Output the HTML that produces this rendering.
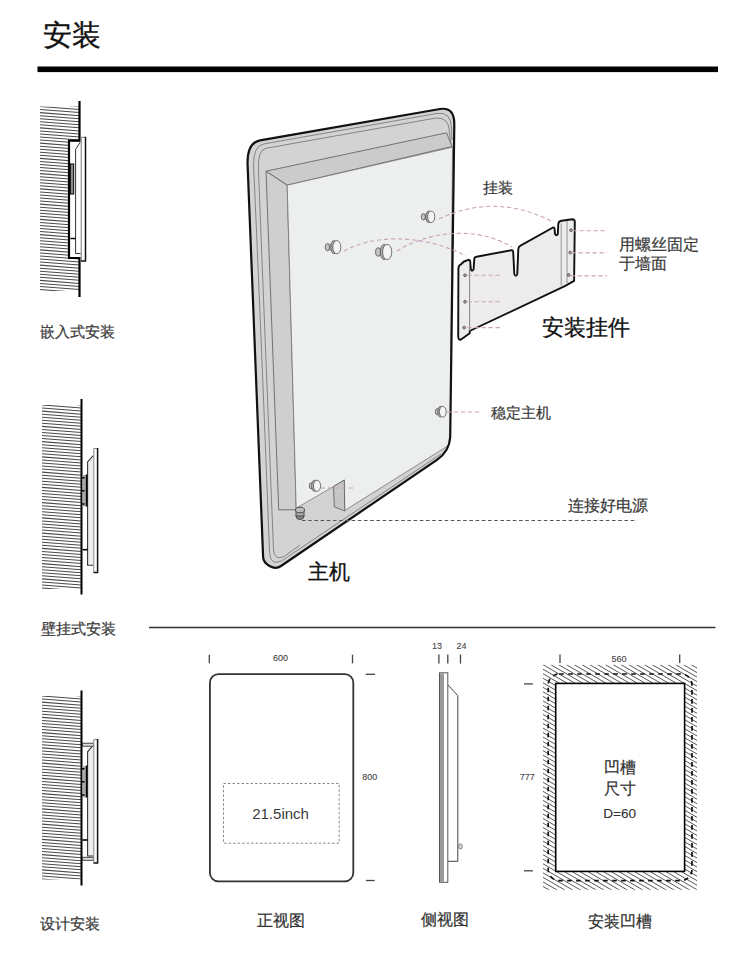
<!DOCTYPE html>
<html><head><meta charset="utf-8"><style>
html,body{margin:0;padding:0;background:#fff;}
body{width:750px;height:964px;position:relative;overflow:hidden;font-family:"Liberation Sans",sans-serif;}
svg{position:absolute;left:0;top:0;}
.t{position:absolute;white-space:nowrap;}
</style></head><body>
<svg width="750" height="964" viewBox="0 0 750 964">
<defs>
<clipPath id="w1"><rect x="40" y="106.5" width="39.5" height="184.5"/></clipPath>
<clipPath id="w2"><rect x="42" y="405" width="39.5" height="184"/></clipPath>
<clipPath id="w3"><rect x="42" y="696" width="39.5" height="183.5"/></clipPath>
<clipPath id="gz"><path clip-rule="evenodd" d="M543,664.7H697V889.8H543Z M555.7,683.4H684.6V871.4H555.7Z"/></clipPath>
</defs>
<rect x="37.5" y="66.5" width="680.5" height="5.6" fill="#000"/>
<line x1="149" y1="627.5" x2="715.5" y2="627.5" stroke="#333" stroke-width="1.5"/>
<path clip-path="url(#w1)" d="M40,103.45L79.5,106.50M40,106.50L79.5,109.55M40,109.55L79.5,112.60M40,112.60L79.5,115.65M40,115.65L79.5,118.70M40,118.70L79.5,121.75M40,121.75L79.5,124.80M40,124.80L79.5,127.85M40,127.85L79.5,130.90M40,130.90L79.5,133.95M40,133.95L79.5,137.00M40,137.00L79.5,140.05M40,140.05L79.5,143.10M40,143.10L79.5,146.15M40,146.15L79.5,149.20M40,149.20L79.5,152.25M40,152.25L79.5,155.30M40,155.30L79.5,158.35M40,158.35L79.5,161.40M40,161.40L79.5,164.45M40,164.45L79.5,167.50M40,167.50L79.5,170.55M40,170.55L79.5,173.60M40,173.60L79.5,176.65M40,176.65L79.5,179.70M40,179.70L79.5,182.75M40,182.75L79.5,185.80M40,185.80L79.5,188.85M40,188.85L79.5,191.90M40,191.90L79.5,194.95M40,194.95L79.5,198.00M40,198.00L79.5,201.05M40,201.05L79.5,204.10M40,204.10L79.5,207.15M40,207.15L79.5,210.20M40,210.20L79.5,213.25M40,213.25L79.5,216.30M40,216.30L79.5,219.35M40,219.35L79.5,222.40M40,222.40L79.5,225.45M40,225.45L79.5,228.50M40,228.50L79.5,231.55M40,231.55L79.5,234.60M40,234.60L79.5,237.65M40,237.65L79.5,240.70M40,240.70L79.5,243.75M40,243.75L79.5,246.80M40,246.80L79.5,249.85M40,249.85L79.5,252.90M40,252.90L79.5,255.95M40,255.95L79.5,259.00M40,259.00L79.5,262.05M40,262.05L79.5,265.10M40,265.10L79.5,268.15M40,268.15L79.5,271.20M40,271.20L79.5,274.25M40,274.25L79.5,277.30M40,277.30L79.5,280.35M40,280.35L79.5,283.40M40,283.40L79.5,286.45M40,286.45L79.5,289.50M40,289.50L79.5,292.55" stroke="#4a4a4a" stroke-width="1.05" fill="none"/>
<rect x="68.8" y="140" width="11.5" height="118.5" fill="#fff"/>
<path d="M79.5,101V140.5H69V258H79.5V297" stroke="#000" stroke-width="2.2" fill="none"/>
<path d="M70.5,141.5H80V142.5L75.6,149.5V253.5H80.5" stroke="#333" stroke-width="1" fill="none"/>
<rect x="70.3" y="164" width="3.4" height="30" fill="#888" stroke="#000" stroke-width="1"/>
<line x1="70.5" y1="238.5" x2="75.5" y2="238.5" stroke="#000" stroke-width="1.5"/>
<rect x="81.2" y="137.3" width="4.3" height="123.3" fill="#fff"/>
<path d="M81.2,260.6V137.3H85.5" stroke="#777" stroke-width="1" fill="none"/>
<path d="M85.5,136.8V261H81" stroke="#111" stroke-width="1.5" fill="none"/>
<path clip-path="url(#w2)" d="M42,401.95L81.5,405.00M42,405.00L81.5,408.05M42,408.05L81.5,411.10M42,411.10L81.5,414.15M42,414.15L81.5,417.20M42,417.20L81.5,420.25M42,420.25L81.5,423.30M42,423.30L81.5,426.35M42,426.35L81.5,429.40M42,429.40L81.5,432.45M42,432.45L81.5,435.50M42,435.50L81.5,438.55M42,438.55L81.5,441.60M42,441.60L81.5,444.65M42,444.65L81.5,447.70M42,447.70L81.5,450.75M42,450.75L81.5,453.80M42,453.80L81.5,456.85M42,456.85L81.5,459.90M42,459.90L81.5,462.95M42,462.95L81.5,466.00M42,466.00L81.5,469.05M42,469.05L81.5,472.10M42,472.10L81.5,475.15M42,475.15L81.5,478.20M42,478.20L81.5,481.25M42,481.25L81.5,484.30M42,484.30L81.5,487.35M42,487.35L81.5,490.40M42,490.40L81.5,493.45M42,493.45L81.5,496.50M42,496.50L81.5,499.55M42,499.55L81.5,502.60M42,502.60L81.5,505.65M42,505.65L81.5,508.70M42,508.70L81.5,511.75M42,511.75L81.5,514.80M42,514.80L81.5,517.85M42,517.85L81.5,520.90M42,520.90L81.5,523.95M42,523.95L81.5,527.00M42,527.00L81.5,530.05M42,530.05L81.5,533.10M42,533.10L81.5,536.15M42,536.15L81.5,539.20M42,539.20L81.5,542.25M42,542.25L81.5,545.30M42,545.30L81.5,548.35M42,548.35L81.5,551.40M42,551.40L81.5,554.45M42,554.45L81.5,557.50M42,557.50L81.5,560.55M42,560.55L81.5,563.60M42,563.60L81.5,566.65M42,566.65L81.5,569.70M42,569.70L81.5,572.75M42,572.75L81.5,575.80M42,575.80L81.5,578.85M42,578.85L81.5,581.90M42,581.90L81.5,584.95M42,584.95L81.5,588.00M42,588.00L81.5,591.05" stroke="#4a4a4a" stroke-width="1.05" fill="none"/>
<line x1="81.5" y1="399" x2="81.5" y2="594.5" stroke="#000" stroke-width="2"/>
<path d="M93.3,455.6L87.6,462V565.3H93.3" stroke="#333" stroke-width="1.1" fill="#efefef"/>
<rect x="82.5" y="475" width="4" height="31.4" fill="#a8a8a8"/>
<path d="M86.6,474.5V506.5M82,477.8H84.5M82,490.7H84.5M82,504H84.5" stroke="#000" stroke-width="1.5"/>
<line x1="82.5" y1="549.7" x2="87.5" y2="549.7" stroke="#000" stroke-width="1.6"/>
<rect x="93.8" y="448.5" width="3.8" height="123.5" fill="#fff"/>
<path d="M93.8,572V448.5H97.6" stroke="#888" stroke-width="1" fill="none"/>
<path d="M97.6,448V572.5H93.5" stroke="#111" stroke-width="1.5" fill="none"/>
<path clip-path="url(#w3)" d="M42,692.95L81.5,696.00M42,696.00L81.5,699.05M42,699.05L81.5,702.10M42,702.10L81.5,705.15M42,705.15L81.5,708.20M42,708.20L81.5,711.25M42,711.25L81.5,714.30M42,714.30L81.5,717.35M42,717.35L81.5,720.40M42,720.40L81.5,723.45M42,723.45L81.5,726.50M42,726.50L81.5,729.55M42,729.55L81.5,732.60M42,732.60L81.5,735.65M42,735.65L81.5,738.70M42,738.70L81.5,741.75M42,741.75L81.5,744.80M42,744.80L81.5,747.85M42,747.85L81.5,750.90M42,750.90L81.5,753.95M42,753.95L81.5,757.00M42,757.00L81.5,760.05M42,760.05L81.5,763.10M42,763.10L81.5,766.15M42,766.15L81.5,769.20M42,769.20L81.5,772.25M42,772.25L81.5,775.30M42,775.30L81.5,778.35M42,778.35L81.5,781.40M42,781.40L81.5,784.45M42,784.45L81.5,787.50M42,787.50L81.5,790.55M42,790.55L81.5,793.60M42,793.60L81.5,796.65M42,796.65L81.5,799.70M42,799.70L81.5,802.75M42,802.75L81.5,805.80M42,805.80L81.5,808.85M42,808.85L81.5,811.90M42,811.90L81.5,814.95M42,814.95L81.5,818.00M42,818.00L81.5,821.05M42,821.05L81.5,824.10M42,824.10L81.5,827.15M42,827.15L81.5,830.20M42,830.20L81.5,833.25M42,833.25L81.5,836.30M42,836.30L81.5,839.35M42,839.35L81.5,842.40M42,842.40L81.5,845.45M42,845.45L81.5,848.50M42,848.50L81.5,851.55M42,851.55L81.5,854.60M42,854.60L81.5,857.65M42,857.65L81.5,860.70M42,860.70L81.5,863.75M42,863.75L81.5,866.80M42,866.80L81.5,869.85M42,869.85L81.5,872.90M42,872.90L81.5,875.95M42,875.95L81.5,879.00M42,879.00L81.5,882.05" stroke="#4a4a4a" stroke-width="1.05" fill="none"/>
<line x1="81.5" y1="690.5" x2="81.5" y2="885.5" stroke="#000" stroke-width="2"/>
<path d="M93.3,745L87.6,751.8V856H93.3" stroke="#333" stroke-width="1.1" fill="#efefef"/>
<rect x="82.5" y="743.2" width="11" height="3" fill="#ddd" stroke="#333" stroke-width="0.9"/>
<rect x="82.5" y="857.3" width="11" height="3" fill="#ddd" stroke="#333" stroke-width="0.9"/>
<rect x="82.5" y="766" width="4" height="31.4" fill="#a8a8a8"/>
<path d="M86.6,765.5V797.5M82,768.8H84.5M82,781.7H84.5M82,795H84.5" stroke="#000" stroke-width="1.5"/>
<line x1="82.5" y1="840" x2="87.5" y2="840" stroke="#000" stroke-width="1.6"/>
<rect x="93.8" y="739.6" width="3.8" height="123" fill="#fff"/>
<path d="M93.8,862.6V739.6H97.6" stroke="#888" stroke-width="1" fill="none"/>
<path d="M97.6,739.1V863H93.5" stroke="#111" stroke-width="1.5" fill="none"/>
<path d="M260,140.3L440,109Q454.7,106.7 454.3,125L450.2,437Q449.4,451.4 437,459.8L281,566C274,571 263.3,564 263.1,557L247.6,165Q246.7,143 260,140.3Z" fill="#d3d3d3"/>
<path d="M452,140L451.5,128Q451,112 438,113.3L264,143.9Q253,145.8 253.6,166Q261,330 269.6,553Q270.5,566 281.5,561L441,454" stroke="#7a7a7a" stroke-width="0.9" fill="none"/>
<path d="M451,146L449.5,132Q449,117 436,118L266,148.3Q257.5,150.2 258.4,170Q265,335 273.5,550Q274.5,561 284,556.5L300,545" stroke="#7a7a7a" stroke-width="0.9" fill="none"/>
<path d="M266,171.2L446.6,132.8L452,146.5L287.2,185.2Z" fill="#cbcbcb" stroke="#666" stroke-width="0.9"/>
<path d="M266,171.2L287.2,185.2L296.2,508.2L296.2,509.8L278.7,509.8Z" fill="#cfcfcf" stroke="#666" stroke-width="0.9"/>
<path d="M287.2,185.2L452.5,147.2L450.3,440Q449,446 446,447L344.7,510.5L344.3,480L333.5,486.5L296.2,508.2Z" fill="#edefef" stroke="#777" stroke-width="0.8"/>
<path d="M333.5,486.5L344.3,480L344.7,511L334.3,506.8Z" fill="#c6c6c6" stroke="#666" stroke-width="0.9"/>
<path d="M260,140.3L440,109Q454.7,106.7 454.3,125L450.2,437Q449.4,451.4 437,459.8L281,566C274,571 263.3,564 263.1,557L247.6,165Q246.7,143 260,140.3Z" fill="none" stroke="#111" stroke-width="2.2"/>
<g stroke="#5a5a5a" stroke-width="0.85"><path d="M423.1,213.6H429.4V220.0H423.1Z" fill="#b5b5b5" stroke="none"/><ellipse cx="423.3" cy="216.8" rx="2.0" ry="3.2" fill="#c4c4c4"/><ellipse cx="428.7" cy="216.8" rx="2.9" ry="5.8" fill="#b0b0b0"/><ellipse cx="431.2" cy="216.8" rx="3.6" ry="5.8" fill="#f4f4f4"/></g>
<g stroke="#5a5a5a" stroke-width="0.85"><path d="M327.2,243.6H334.8V250.8H327.2Z" fill="#b5b5b5" stroke="none"/><ellipse cx="327.4" cy="247.2" rx="2.2" ry="3.6" fill="#c4c4c4"/><ellipse cx="334.0" cy="247.2" rx="3.2" ry="6.6" fill="#b0b0b0"/><ellipse cx="336.8" cy="247.2" rx="4.0" ry="6.6" fill="#f4f4f4"/></g>
<g stroke="#5a5a5a" stroke-width="0.85"><path d="M377.9,247.8H384.9V256.2H377.9Z" fill="#b5b5b5" stroke="none"/><ellipse cx="378.1" cy="252.0" rx="2.5" ry="4.2" fill="#c4c4c4"/><ellipse cx="384.0" cy="252.0" rx="3.7" ry="7.6" fill="#b0b0b0"/><ellipse cx="387.2" cy="252.0" rx="4.6" ry="7.6" fill="#f4f4f4"/></g>
<g stroke="#5a5a5a" stroke-width="0.85"><path d="M437.0,408.7H441.1V414.7H437.0Z" fill="#b5b5b5" stroke="none"/><ellipse cx="437.2" cy="411.7" rx="1.9" ry="3.0" fill="#c4c4c4"/><ellipse cx="440.4" cy="411.7" rx="2.7" ry="5.4" fill="#b0b0b0"/><ellipse cx="442.8" cy="411.7" rx="3.4" ry="5.4" fill="#f4f4f4"/></g>
<g stroke="#5a5a5a" stroke-width="0.85"><path d="M311.1,482.7H315.2V488.9H311.1Z" fill="#b5b5b5" stroke="none"/><ellipse cx="311.3" cy="485.8" rx="2.0" ry="3.1" fill="#c4c4c4"/><ellipse cx="314.5" cy="485.8" rx="2.9" ry="5.6" fill="#b0b0b0"/><ellipse cx="317.0" cy="485.8" rx="3.6" ry="5.6" fill="#f4f4f4"/></g>
<g stroke="#444" stroke-width="0.9"><ellipse cx="300" cy="516" rx="4" ry="3.5" fill="#888"/><rect x="296" y="510" width="8" height="6" fill="#aaa"/><ellipse cx="300" cy="510" rx="4.5" ry="2.8" fill="#bbb"/></g>
<path d="M439,219Q495,192.6 551,221" stroke="#c9a2bd" stroke-width="1.1" fill="none" stroke-dasharray="4.2,2.8"/>
<path d="M344,251C370,236 420,232 466,256" stroke="#c9a2bd" stroke-width="1.1" fill="none" stroke-dasharray="4.2,2.8"/>
<path d="M397,251C420,236 470,222 512,247" stroke="#c9a2bd" stroke-width="1.1" fill="none" stroke-dasharray="4.2,2.8"/>
<line x1="447" y1="412" x2="481" y2="412" stroke="#c9a2bd" stroke-width="1.1" fill="none" stroke-dasharray="4.2,2.8"/>
<line x1="321" y1="488" x2="356" y2="488" stroke="#c9a2bd" stroke-width="1.1" fill="none" stroke-dasharray="4.2,2.8"/>
<line x1="302" y1="520.5" x2="637" y2="520.5" stroke="#555" stroke-width="1.2" stroke-dasharray="3.6,2.6"/>
<path d="M458.4,268.5Q458.6,265 461,264.3L464,261.5L468.5,259.8Q470,259.8 470.2,261.8L470.9,269.5Q472.2,272 473.6,269.2L474.3,258.6Q474.6,257 476.5,256.7L511.5,250.2Q513,250 513.2,252L514.3,274Q515.8,277.5 517.3,274L518.3,249Q518.6,246.5 520.5,245.6L553,227.5Q554.3,227 554.6,229L555,234Q556.5,236.5 557.8,234L558.3,224Q558.6,221.2 561.5,220.8L572.3,219.3Q575,219.3 574.8,222.5L574.1,280.9L564.8,286.2L469.7,331L469.7,333.2L461,339.5Q458.2,340.5 458.2,336Z" fill="#ececec" stroke="#111" stroke-width="1.9" stroke-linejoin="round"/>
<path d="M469.6,262V331" stroke="#777" stroke-width="0.9" fill="none"/>
<path d="M561.2,223.5V285.5M567,221V283" stroke="#888" stroke-width="0.9" fill="none"/>
<circle cx="465" cy="275.3" r="1.4" fill="#999" stroke="#555" stroke-width="0.8"/>
<circle cx="465" cy="301.8" r="1.4" fill="#999" stroke="#555" stroke-width="0.8"/>
<circle cx="464.2" cy="327.6" r="1.4" fill="#999" stroke="#555" stroke-width="0.8"/>
<circle cx="571" cy="230.2" r="1.4" fill="#999" stroke="#555" stroke-width="0.8"/>
<circle cx="570.2" cy="252.6" r="1.4" fill="#999" stroke="#555" stroke-width="0.8"/>
<circle cx="568.7" cy="275" r="1.4" fill="#999" stroke="#555" stroke-width="0.8"/>
<line x1="467.5" y1="275.3" x2="500" y2="275.3" stroke="#c9a2bd" stroke-width="1.1" fill="none" stroke-dasharray="4.2,2.8"/>
<line x1="467.5" y1="301.8" x2="500" y2="301.8" stroke="#c9a2bd" stroke-width="1.1" fill="none" stroke-dasharray="4.2,2.8"/>
<line x1="467.5" y1="327.6" x2="500" y2="327.6" stroke="#c9a2bd" stroke-width="1.1" fill="none" stroke-dasharray="4.2,2.8"/>
<line x1="572.5" y1="230.8" x2="607" y2="230.8" stroke="#c9a2bd" stroke-width="1.1" fill="none" stroke-dasharray="4.2,2.8"/>
<line x1="571.5" y1="252.9" x2="607" y2="252.9" stroke="#c9a2bd" stroke-width="1.1" fill="none" stroke-dasharray="4.2,2.8"/>
<line x1="570.5" y1="275.9" x2="607" y2="275.9" stroke="#c9a2bd" stroke-width="1.1" fill="none" stroke-dasharray="4.2,2.8"/>
<rect x="209.9" y="674.2" width="143.4" height="207.1" rx="8.5" fill="#fff" stroke="#333" stroke-width="1.8"/>
<rect x="223.5" y="783.5" width="115.7" height="59.7" fill="none" stroke="#8a8a8a" stroke-width="1" stroke-dasharray="2.5,2"/>
<line x1="209.3" y1="654.7" x2="209.3" y2="663.3" stroke="#444" stroke-width="1.3"/>
<line x1="352.5" y1="654.7" x2="352.5" y2="663.3" stroke="#444" stroke-width="1.3"/>
<line x1="365.7" y1="674.3" x2="375" y2="674.3" stroke="#444" stroke-width="1.3"/>
<line x1="365.9" y1="880.5" x2="374.7" y2="880.5" stroke="#444" stroke-width="1.3"/>
<line x1="438.9" y1="654.5" x2="438.9" y2="663.6" stroke="#444" stroke-width="1.3"/>
<line x1="447.8" y1="654.5" x2="447.8" y2="663.6" stroke="#444" stroke-width="1.3"/>
<line x1="460.5" y1="654.5" x2="460.5" y2="663.6" stroke="#444" stroke-width="1.3"/>
<path d="M447.8,684.8L457.8,695.6V861.3H447.8" fill="#fff" stroke="#444" stroke-width="1"/>
<ellipse cx="460.5" cy="846.4" rx="1.8" ry="2.6" fill="#ddd" stroke="#666" stroke-width="0.8"/>
<rect x="439.5" y="672.8" width="8.3" height="209.5" fill="#fff" stroke="#555" stroke-width="1"/>
<rect x="440" y="673.3" width="4" height="208.5" fill="#9a9a9a"/>
<path clip-path="url(#gz)" d="M75.00,664.7L471.55,894.70M82.80,664.7L479.35,894.70M90.60,664.7L487.15,894.70M98.40,664.7L494.95,894.70M106.20,664.7L502.75,894.70M114.00,664.7L510.55,894.70M121.80,664.7L518.35,894.70M129.60,664.7L526.15,894.70M137.40,664.7L533.95,894.70M145.20,664.7L541.75,894.70M153.00,664.7L549.55,894.70M160.80,664.7L557.35,894.70M168.60,664.7L565.15,894.70M176.40,664.7L572.95,894.70M184.20,664.7L580.75,894.70M192.00,664.7L588.55,894.70M199.80,664.7L596.35,894.70M207.60,664.7L604.15,894.70M215.40,664.7L611.95,894.70M223.20,664.7L619.75,894.70M231.00,664.7L627.55,894.70M238.80,664.7L635.35,894.70M246.60,664.7L643.15,894.70M254.40,664.7L650.95,894.70M262.20,664.7L658.75,894.70M270.00,664.7L666.55,894.70M277.80,664.7L674.35,894.70M285.60,664.7L682.15,894.70M293.40,664.7L689.95,894.70M301.20,664.7L697.75,894.70M309.00,664.7L705.55,894.70M316.80,664.7L713.35,894.70M324.60,664.7L721.15,894.70M332.40,664.7L728.95,894.70M340.20,664.7L736.75,894.70M348.00,664.7L744.55,894.70M355.80,664.7L752.35,894.70M363.60,664.7L760.15,894.70M371.40,664.7L767.95,894.70M379.20,664.7L775.75,894.70M387.00,664.7L783.55,894.70M394.80,664.7L791.35,894.70M402.60,664.7L799.15,894.70M410.40,664.7L806.95,894.70M418.20,664.7L814.75,894.70M426.00,664.7L822.55,894.70M433.80,664.7L830.35,894.70M441.60,664.7L838.15,894.70M449.40,664.7L845.95,894.70M457.20,664.7L853.75,894.70M465.00,664.7L861.55,894.70M472.80,664.7L869.35,894.70M480.60,664.7L877.15,894.70M488.40,664.7L884.95,894.70M496.20,664.7L892.75,894.70M504.00,664.7L900.55,894.70M511.80,664.7L908.35,894.70M519.60,664.7L916.15,894.70M527.40,664.7L923.95,894.70M535.20,664.7L931.75,894.70M543.00,664.7L939.55,894.70M550.80,664.7L947.35,894.70M558.60,664.7L955.15,894.70M566.40,664.7L962.95,894.70M574.20,664.7L970.75,894.70M582.00,664.7L978.55,894.70M589.80,664.7L986.35,894.70M597.60,664.7L994.15,894.70M605.40,664.7L1001.95,894.70M613.20,664.7L1009.75,894.70M621.00,664.7L1017.55,894.70M628.80,664.7L1025.35,894.70M636.60,664.7L1033.15,894.70M644.40,664.7L1040.95,894.70M652.20,664.7L1048.75,894.70M660.00,664.7L1056.55,894.70M667.80,664.7L1064.35,894.70M675.60,664.7L1072.15,894.70M683.40,664.7L1079.95,894.70M691.20,664.7L1087.75,894.70M699.00,664.7L1095.55,894.70M706.80,664.7L1103.35,894.70M714.60,664.7L1111.15,894.70M722.40,664.7L1118.95,894.70M730.20,664.7L1126.75,894.70" stroke="#444" stroke-width="0.9" fill="none"/>
<rect x="555.7" y="683.4" width="128.9" height="188" fill="#fff" stroke="#000" stroke-width="1.6"/>
<rect x="548.2" y="674" width="143.8" height="206.6" rx="11" fill="none" stroke="#111" stroke-width="1.7" stroke-dasharray="4.6,4.4"/>
<line x1="560" y1="654.6" x2="560" y2="663.1" stroke="#444" stroke-width="1.3"/>
<line x1="679.7" y1="654.6" x2="679.7" y2="663.1" stroke="#444" stroke-width="1.3"/>
<line x1="524" y1="683.9" x2="533" y2="683.9" stroke="#444" stroke-width="1.3"/>
<line x1="524" y1="870.8" x2="533" y2="870.8" stroke="#444" stroke-width="1.3"/>
</svg>
<div class="t" style="left:43.2px;top:21.3px;font-size:29px;line-height:29px;color:#111;-webkit-text-stroke:0.35px #111">安装</div><div class="t" style="left:39.8px;top:323.7px;font-size:15px;line-height:15px;color:#3a3a3a;-webkit-text-stroke:0.22px #3a3a3a">嵌入式安装</div><div class="t" style="left:41.1px;top:620.6px;font-size:15.2px;line-height:15.2px;color:#3a3a3a;-webkit-text-stroke:0.22px #3a3a3a">壁挂式安装</div><div class="t" style="left:40.1px;top:915.7px;font-size:15px;line-height:15px;color:#3a3a3a;-webkit-text-stroke:0.22px #3a3a3a">设计安装</div><div class="t" style="left:483.2px;top:179.8px;font-size:15.2px;line-height:15.2px;color:#3a3a3a;-webkit-text-stroke:0.22px #3a3a3a">挂装</div><div class="t" style="left:619.4px;top:237.0px;font-size:15.5px;line-height:15.5px;color:#3a3a3a;-webkit-text-stroke:0.22px #3a3a3a">用螺丝固定</div><div class="t" style="left:619.4px;top:256.0px;font-size:15.5px;line-height:15.5px;color:#3a3a3a;-webkit-text-stroke:0.22px #3a3a3a">于墙面</div><div class="t" style="left:541.9px;top:316.8px;font-size:22.2px;line-height:22.2px;color:#111;-webkit-text-stroke:0.3px #111">安装挂件</div><div class="t" style="left:490.6px;top:405.0px;font-size:15.2px;line-height:15.2px;color:#3a3a3a;-webkit-text-stroke:0.22px #3a3a3a">稳定主机</div><div class="t" style="left:567.9px;top:498.3px;font-size:15.6px;line-height:15.6px;color:#3a3a3a;-webkit-text-stroke:0.22px #3a3a3a">连接好电源</div><div class="t" style="left:307.7px;top:560.5px;font-size:21px;line-height:21px;color:#111;-webkit-text-stroke:0.3px #111">主机</div><div class="t" style="left:257.3px;top:912.0px;font-size:16.4px;line-height:16.4px;color:#333;-webkit-text-stroke:0.22px #333">正视图</div><div class="t" style="left:420.8px;top:910.5px;font-size:16.3px;line-height:16.3px;color:#333;-webkit-text-stroke:0.22px #333">侧视图</div><div class="t" style="left:587.6px;top:913.3px;font-size:16.4px;line-height:16.4px;color:#333;-webkit-text-stroke:0.22px #333">安装凹槽</div><div class="t" style="left:603.9px;top:760.0px;font-size:16px;line-height:16px;color:#333;-webkit-text-stroke:0.22px #333">凹槽</div><div class="t" style="left:603.9px;top:781.0px;font-size:16px;line-height:16px;color:#333;-webkit-text-stroke:0.22px #333">尺寸</div><div class="t" style="left:273.1px;top:654.2px;font-size:9px;line-height:9px;color:#444;-webkit-text-stroke:0.1px #444">600</div><div class="t" style="left:362.3px;top:773.4px;font-size:9px;line-height:9px;color:#444;-webkit-text-stroke:0.1px #444">800</div><div class="t" style="left:432.0px;top:641.9px;font-size:9px;line-height:9px;color:#444;-webkit-text-stroke:0.1px #444">13</div><div class="t" style="left:456.5px;top:641.9px;font-size:9px;line-height:9px;color:#444;-webkit-text-stroke:0.1px #444">24</div><div class="t" style="left:611.6px;top:654.9px;font-size:9px;line-height:9px;color:#444;-webkit-text-stroke:0.1px #444">560</div><div class="t" style="left:519.8px;top:773.0px;font-size:9px;line-height:9px;color:#444;-webkit-text-stroke:0.1px #444">777</div><div class="t" style="left:252.2px;top:805.8px;font-size:15px;line-height:15px;color:#3a3a3a;-webkit-text-stroke:0.0px #3a3a3a">21.5inch</div><div class="t" style="left:603.3px;top:806.5px;font-size:13.6px;line-height:13.6px;color:#333;-webkit-text-stroke:0.1px #333">D=60</div>
</body></html>
